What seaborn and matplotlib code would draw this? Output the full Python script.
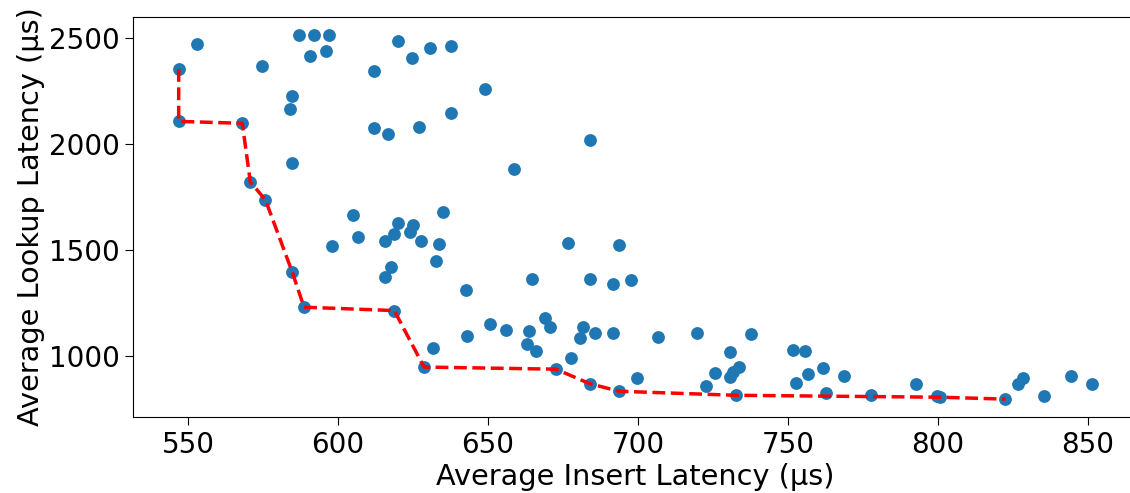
import matplotlib
matplotlib.use("Agg")
import matplotlib.pyplot as plt
import pandas as pd
import seaborn as sns

# configurations (insert latency, lookup latency) in microseconds
insert_us = [
    546.9, 553.1, 546.9, 568.1, 574.8, 586.9, 591.9, 596.9, 590.8, 595.9,
    584.7, 583.9, 584.7, 570.8, 575.8, 611.9, 619.9, 624.8, 630.8, 637.8,
    611.9, 616.8, 626.9, 637.8, 604.9, 634.9, 619.9, 624.9, 618.8, 623.9,
    606.8, 597.9, 615.7, 627.8, 633.8, 632.8, 617.8, 615.7, 584.7, 642.7,
    588.7, 618.8, 643.0, 631.7, 628.7, 648.9, 683.9, 658.8, 676.8, 693.8,
    664.8, 683.9, 691.7, 697.8, 668.9, 650.8, 655.9, 663.8, 670.8, 681.8,
    680.8, 685.7, 691.7, 706.7, 719.6, 737.7, 662.9, 666.0, 677.8, 672.7,
    683.9, 693.8, 699.8, 730.7, 725.7, 722.7, 730.7, 731.8, 733.8, 732.6,
    751.8, 752.6, 755.7, 756.7, 761.7, 768.8, 762.8, 777.8, 792.7, 799.7,
    800.7, 822.6, 826.7, 828.6, 835.6, 844.6, 851.6,
]
lookup_us = [
    2354, 2470, 2107, 2098, 2366, 2514, 2512, 2512, 2415, 2440,
    2225, 2165, 1911, 1821, 1738, 2344, 2484, 2404, 2453, 2460,
    2077, 2046, 2081, 2148, 1667, 1680, 1628, 1617, 1578, 1584,
    1564, 1521, 1542, 1545, 1529, 1450, 1421, 1372, 1400, 1311,
    1232, 1216, 1097, 1041, 950, 2261, 2017, 1883, 1534, 1527,
    1364, 1364, 1342, 1361, 1183, 1152, 1124, 1121, 1138, 1140,
    1088, 1110, 1111, 1092, 1110, 1106, 1058, 1026, 993, 940,
    872, 836, 898, 1022, 921, 861, 905, 929, 948, 817,
    1032, 877, 1026, 917, 945, 907, 827, 819, 868, 814,
    808, 799, 871, 898, 816, 907, 871,
]

# pareto frontier
frontier_insert = [546.9, 546.9, 568.1, 570.8, 575.8, 584.7, 588.7, 618.8,
                   628.7, 672.7, 683.9, 693.8, 732.6, 800.7, 822.6]
frontier_lookup = [2354, 2107, 2098, 1821, 1738, 1400, 1232, 1216,
                   950, 940, 872, 836, 817, 808, 799]

df = pd.DataFrame({"insert": insert_us, "lookup": lookup_us})
df_front = pd.DataFrame({"insert": frontier_insert, "lookup": frontier_lookup})

plt.rcParams["font.family"] = ["DejaVu Sans"]
plt.rcParams["font.size"] = 20

fig = plt.figure(figsize=(11.3, 4.93), dpi=100)
# the right edge of the axes runs past the figure edge, as in the original crop
ax = fig.add_axes([0.1177, 0.1535, 0.8895, 0.8125])

sns.scatterplot(data=df, x="insert", y="lookup", ax=ax, s=85,
                color="#1f77b4", linewidth=0, zorder=2)
sns.lineplot(data=df_front, x="insert", y="lookup", ax=ax, sort=False,
             estimator=None, color="red", linestyle="--", linewidth=2.5,
             zorder=3)

ax.set_xticks([550, 600, 650, 700, 750, 800, 850])
ax.set_yticks([1000, 1500, 2000, 2500])
ax.tick_params(labelsize=20, length=6)
ax.set_xlabel("Average Insert Latency (µs)", fontsize=20.7, labelpad=3)
ax.set_ylabel("Average Lookup Latency (µs)", fontsize=20.7, labelpad=3)

fig.savefig("out.png", dpi=100)
